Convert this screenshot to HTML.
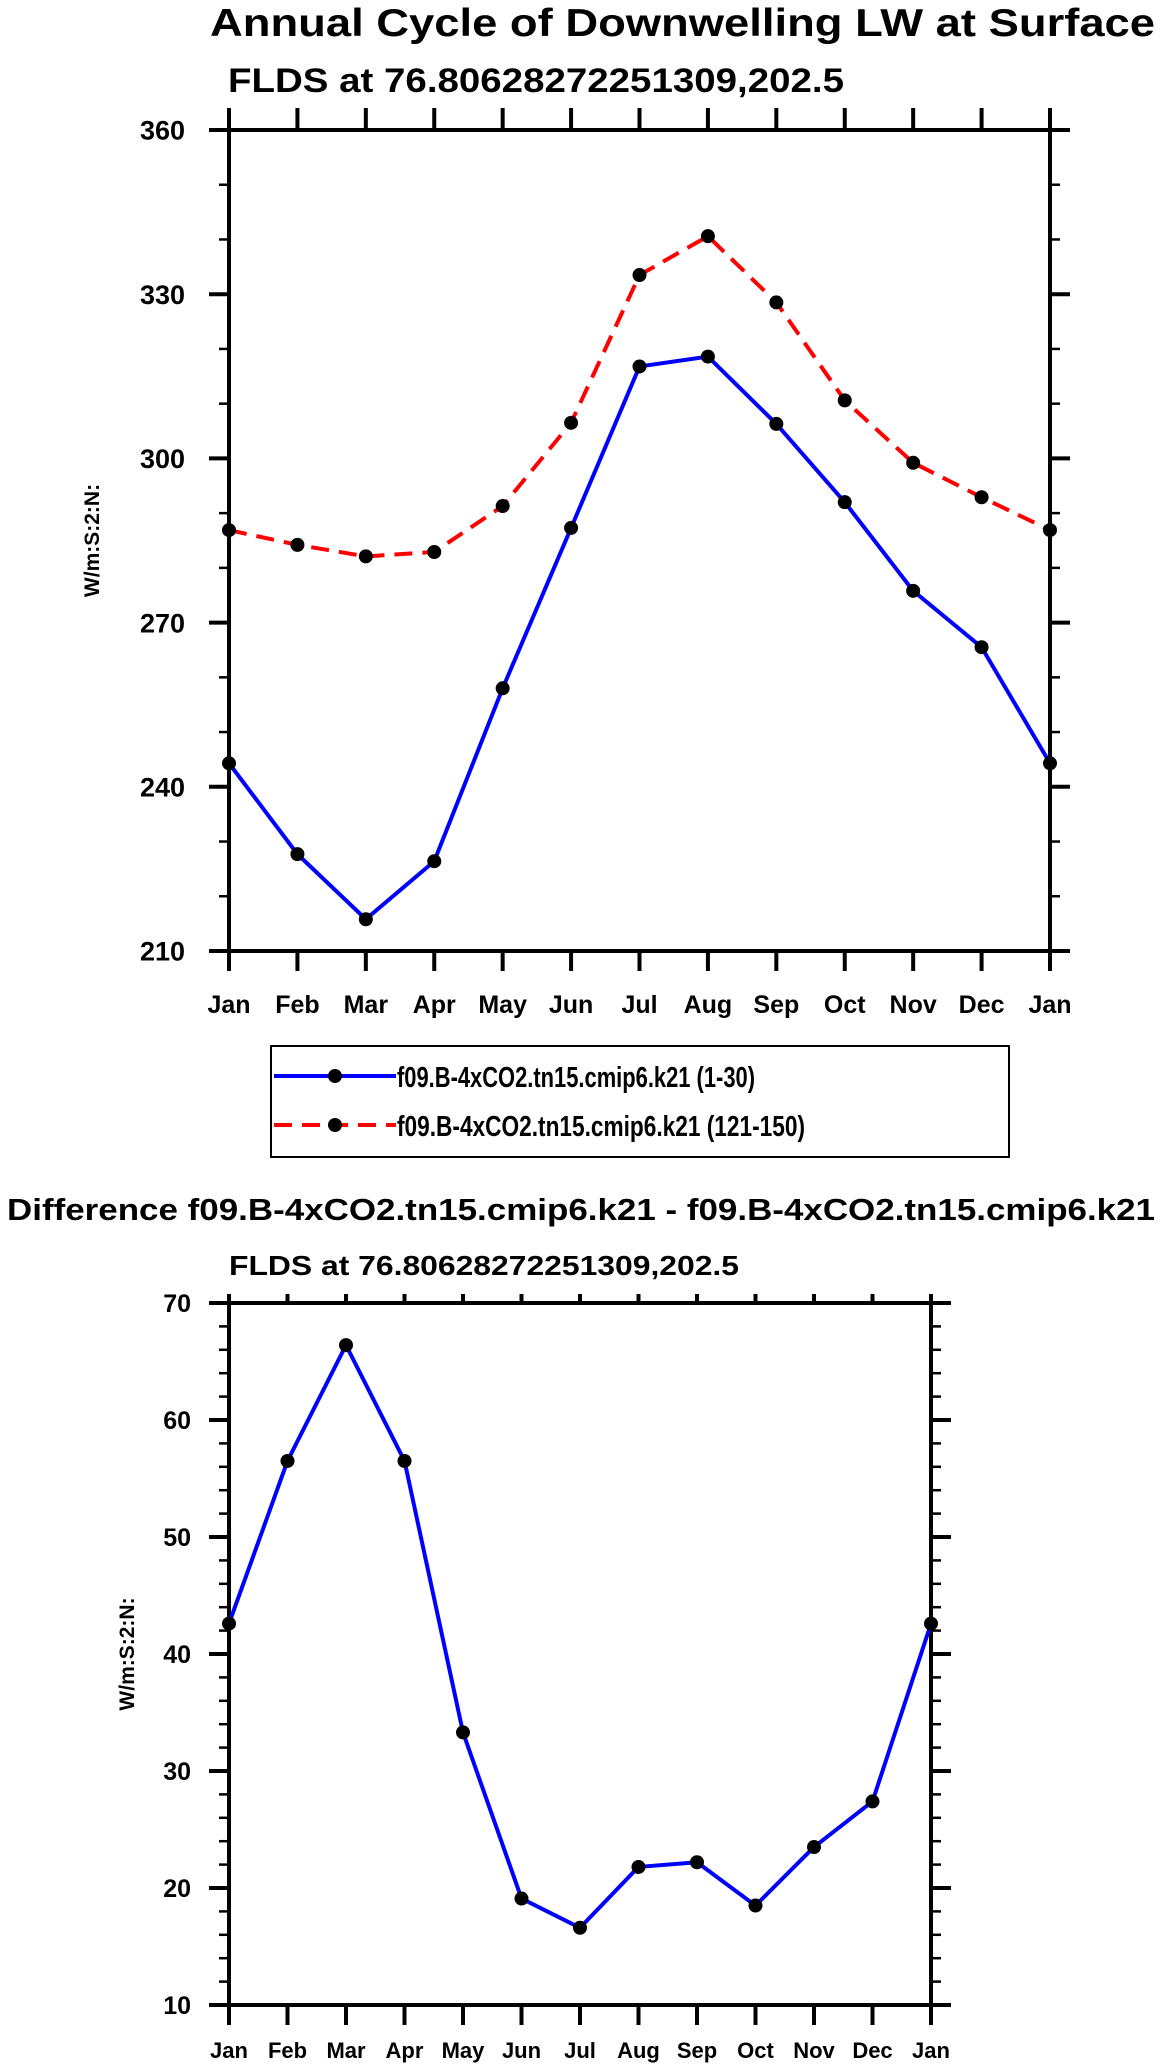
<!DOCTYPE html>
<html><head><meta charset="utf-8"><style>
html,body{margin:0;padding:0;background:#fff}
svg{display:block}
text{font-family:"Liberation Sans",Arial,sans-serif;font-weight:bold;fill:#000}
</style></head><body>
<svg id="svg" width="1161" height="2069" viewBox="0 0 1161 2069" xmlns="http://www.w3.org/2000/svg">
<text x="210" y="36" font-size="39" textLength="945" lengthAdjust="spacingAndGlyphs">Annual Cycle of Downwelling LW at Surface</text>
<text x="228" y="92" font-size="34" textLength="616" lengthAdjust="spacingAndGlyphs">FLDS at 76.80628272251309,202.5</text>
<text x="7" y="1220" font-size="31" textLength="1148" lengthAdjust="spacingAndGlyphs">Difference f09.B-4xCO2.tn15.cmip6.k21 - f09.B-4xCO2.tn15.cmip6.k21</text>
<text x="229" y="1275" font-size="28" textLength="510" lengthAdjust="spacingAndGlyphs">FLDS at 76.80628272251309,202.5</text>
<g id="p1"></g>
<g id="p2"></g>
<g>
<rect x="271" y="1046" width="738" height="111" fill="none" stroke="#000" stroke-width="2"/>
<g>
<line x1="274" y1="1076" x2="396" y2="1076" stroke="#0000ff" stroke-width="4"/>
<circle cx="335" cy="1076" r="7" fill="#000"/>
<text x="397" y="1087" font-size="29" textLength="358" lengthAdjust="spacingAndGlyphs">f09.B-4xCO2.tn15.cmip6.k21 (1-30)</text>
</g>
<g>
<line x1="274" y1="1125" x2="396" y2="1125" stroke="#ff0000" stroke-width="4" stroke-dasharray="18,10"/>
<circle cx="335" cy="1125" r="7" fill="#000"/>
<text x="397" y="1136" font-size="29" textLength="408" lengthAdjust="spacingAndGlyphs">f09.B-4xCO2.tn15.cmip6.k21 (121-150)</text>
</g>
</g>
</svg>
<script>
const months = ["Jan","Feb","Mar","Apr","May","Jun","Jul","Aug","Sep","Oct","Nov","Dec","Jan"];
const early = [244.3,227.7,215.8,226.4,258.0,287.3,316.8,318.6,306.3,292.0,275.8,265.5,244.3];
const late = [286.9,284.2,282.1,282.9,291.3,306.5,333.5,340.6,328.5,310.6,299.2,292.9,286.9];
const diff = [42.6,56.5,66.4,56.5,33.3,19.1,16.6,21.8,22.2,18.5,23.5,27.4,42.6];
const ticks1 = [210,240,270,300,330,360];
const ticks2 = [10,20,30,40,50,60,70];
const NS="http://www.w3.org/2000/svg";
function mk(parent,tag,attrs){const e=document.createElementNS(NS,tag);for(const k in attrs)e.setAttribute(k,attrs[k]);parent.appendChild(e);return e;}
function chart(g,o,series){
  const {L,R,T,B,ymin,ymax,yt,minorStep,ytitleX,labelY,topTick,yFont,xFont,labelGap}=o;
  const sx=i=>L+(R-L)*i/(months.length-1);
  const sy=v=>B-(B-T)*(v-ymin)/(ymax-ymin);
  const ax=mk(g,'g',{});
  
  
  mk(ax,'rect',{x:L,y:T,width:R-L,height:B-T,fill:'none',stroke:'#000','stroke-width':4});
  for(let v=ymin;v<=ymax+1e-9;v+=minorStep){
    const y=sy(v);const major=yt.includes(Math.round(v));const len=major?20:10;
    mk(ax,'line',{x1:L-len,y1:y,x2:L,y2:y,stroke:'#000','stroke-width':major?4:2.5});
    mk(ax,'line',{x1:R,y1:y,x2:R+len,y2:y,stroke:'#000','stroke-width':major?4:2.5});
  }
  yt.forEach(v=>{const t=mk(ax,'text',{x:L-labelGap,y:sy(v)+yFont*0.36,'font-size':yFont,'text-anchor':'end'});t.textContent=v;
    
    });
  months.forEach((m,i)=>{const x=sx(i);
    mk(ax,'line',{x1:x,y1:B,x2:x,y2:B+20,stroke:'#000','stroke-width':4});
    mk(ax,'line',{x1:x,y1:T-topTick,x2:x,y2:T,stroke:'#000','stroke-width':4});
    const t=mk(ax,'text',{x:x,y:labelY,'font-size':xFont,'text-anchor':'middle'});t.textContent=m;
    
    });
  const cy=(T+B)/2;
  const yt2=mk(ax,'text',{x:ytitleX,y:cy,'font-size':21,'text-anchor':'middle',transform:`rotate(-90 ${ytitleX} ${cy})`});
  yt2.textContent='W/m:S:2:N:';
  
  
  series.forEach(s=>{
    const sg=mk(g,'g',{});
    
    
    const pts=s.data.map((v,i)=>sx(i)+','+sy(v)).join(' ');
    const a={points:pts,fill:'none',stroke:s.color,'stroke-width':4,'stroke-linejoin':'round'};
    if(s.dash)a['stroke-dasharray']=s.dash;
    mk(sg,'polyline',a);
    s.data.forEach((v,i)=>{const c=mk(sg,'circle',{cx:sx(i),cy:sy(v),r:7,fill:'#000'});
      
      });
  });
}
chart(document.getElementById('p1'),{L:229,R:1050,T:130,B:951,ymin:210,ymax:360,yt:ticks1,minorStep:10,ytitleX:99,labelY:1013,topTick:22,yFont:27,xFont:25,labelGap:44},
  [{name:'series-121-150',data:late,color:'#ff0000',dash:'18,10'},{name:'series-1-30',data:early,color:'#0000ff'}]);
chart(document.getElementById('p2'),{L:229,R:931,T:1303,B:2005,ymin:10,ymax:70,yt:ticks2,minorStep:2,ytitleX:134,labelY:2058,topTick:9,yFont:25,xFont:22,labelGap:38},
  [{name:'series-difference',data:diff,color:'#0000ff'}]);
</script>
</body></html>
